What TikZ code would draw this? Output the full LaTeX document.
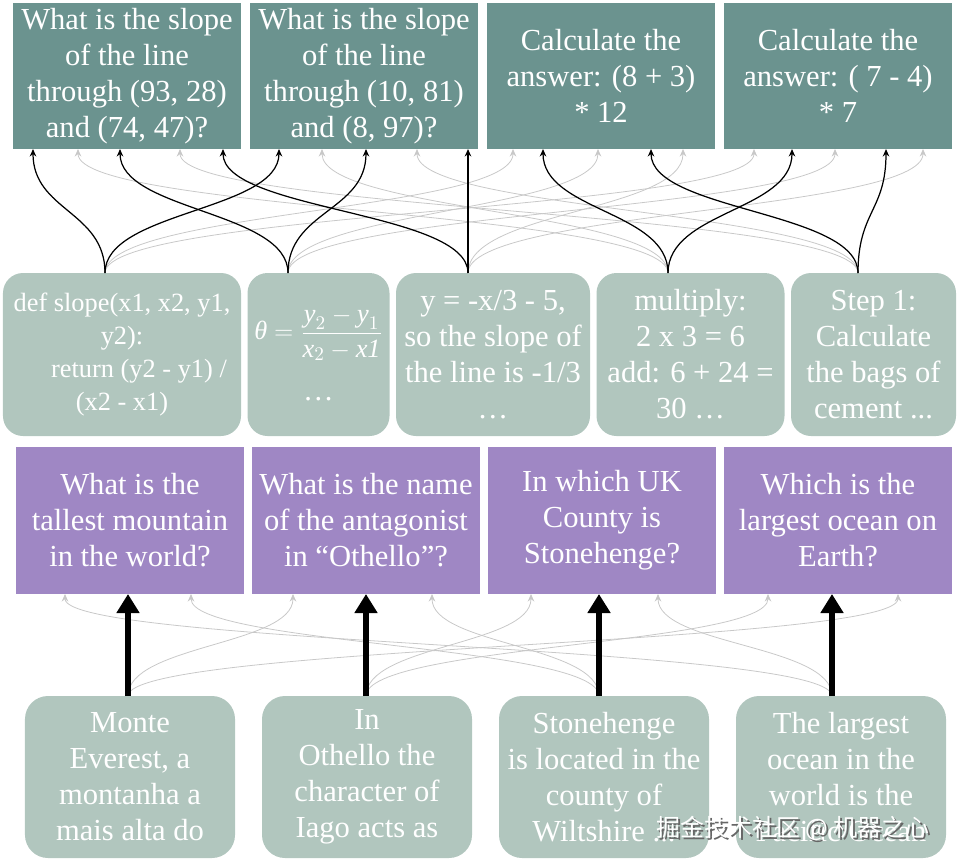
\documentclass[tikz,border=0pt]{standalone}
\usepackage{fontspec}
\setmainfont{Liberation Serif}
\newfontfamily\cjkfont{Noto Sans CJK SC}
\usepackage{tikz}
\usetikzlibrary{arrows.meta, positioning}

\definecolor{qteal}{RGB}{107,147,143}
\definecolor{sage}{RGB}{177,198,190}
\definecolor{lilac}{RGB}{159,135,196}
\definecolor{faint}{RGB}{200,200,200}

\begin{document}
\begin{tikzpicture}[x=0.2mm, y=-0.2mm,
    question/.style={rectangle, fill=qteal, text=white, inner sep=0pt, outer sep=0pt, minimum width=45.6mm, minimum height=29.2mm, align=center, font=\fontsize{17.4}{20.5}\selectfont},
    trivia/.style={question, fill=lilac, minimum height=29.4mm},
    reason/.style={question, fill=sage, rounded corners=4mm, minimum height=32.6mm},
    answer/.style={reason, rounded corners=4.6mm, minimum width=42mm, minimum height=32.4mm},
    rise/.style={to path={.. controls +(0,-#1) and +(0,#1) .. (\tikztotarget)}},
    link/.style={-{Stealth[length=1.5mm, width=1.3mm]}, line width=0.7pt},
    faded/.style={link, draw=faint, line width=0.45pt},
    bold/.style={-{Triangle[length=3.8mm, width=4.4mm]}, line width=1.3mm}
]
\useasboundingbox (0,0) rectangle (959,865);

\node[question] (q1) at (127,76) {What is the slope\\of the line\\through (93, 28)\\and (74, 47)?};
\node[question, right=1.8mm of q1] (q2) {What is the slope\\of the line\\through (10, 81)\\and (8, 97)?};
\node[question, right=1.8mm of q2] (q3) {Calculate the\\answer: (8 + 3)\\* 12};
\node[question, right=1.8mm of q3] (q4) {Calculate the\\answer: ( 7 - 4)\\* 7};

\node[reason, minimum width=47.6mm, font=\fontsize{15}{18.8}\selectfont] (m1) at (122,354.5) {def slope(x1, x2, y1,\\y2):\\\hspace*{6.8mm}return (y2 - y1) /\\(x2 - x1)};
\node[reason, minimum width=28.4mm, right=1.3mm of m1] (m2) {{\fontsize{15}{18}\selectfont$\displaystyle\textit{θ}=\frac{\textit{y}_2-\textit{y}_1}{\textit{x}_2-\textit{x1}}$}\\[5mm]…};
\node[reason, minimum width=38.8mm, right=1.3mm of m2] (m3) {y = -x/3 - 5,\\so the slope of\\the line is -1/3\\…};
\node[reason, minimum width=37.6mm, right=1.3mm of m3] (m4) {multiply:\\2 x 3 = 6\\add: 6 + 24 =\\30 …};
\node[reason, minimum width=33mm, right=1.3mm of m4] (m5) {Step 1:\\Calculate\\the bags of\\cement ...};

\node[trivia] (p1) at (130,520.5) {What is the\\tallest mountain\\in the world?};
\node[trivia, right=1.6mm of p1] (p2) {What is the name\\of the antagonist\\in “Othello”?};
\node[trivia, right=1.6mm of p2] (p3) {In which UK\\County is\\Stonehenge?};
\node[trivia, right=1.6mm of p3] (p4) {Which is the\\largest ocean on\\Earth?};

\node[answer] (a1) at (130,777) {Monte\\Everest, a\\montanha a\\mais alta do};
\node[answer, right=5.4mm of a1] (a2) {In\\Othello the\\character of\\Iago acts as};
\node[answer, right=5.4mm of a2] (a3) {Stonehenge\\is located in the\\county of\\Wiltshire ...};
\node[answer, right=5.4mm of a3] (a4) {The largest\\ocean in the\\world is the\\Pacific Ocean};

\coordinate (m1t) at ([xshift=-3.4mm]m1.north);
\coordinate (m2t) at ([xshift=-6.1mm]m2.north);
\coordinate (m3t) at ([xshift=-5mm]m3.north);
\coordinate (m4t) at ([xshift=-4.5mm]m4.north);
\coordinate (m5t) at ([xshift=-3.1mm]m5.north);
\coordinate (a1t) at ([xshift=-0.4mm]a1.north);
\coordinate (a2t) at ([xshift=-0.2mm]a2.north);
\coordinate (a3t) at ([xshift=-1mm]a3.north);
\coordinate (a4t) at ([xshift=-1.8mm]a4.north);

% reasoning that does not fit the question
\draw[faded] (m4t) to[rise=62] ([xshift=-9.8mm]q1.south);
\draw[faded] (m5t) to[rise=62] ([xshift=10.6mm]q1.south);
\draw[faded] (m4t) to[rise=62] ([xshift=-8.4mm]q2.south);
\draw[faded] (m5t) to[rise=62] ([xshift=10.6mm]q2.south);
\draw[faded] (m1t) to[rise=62] ([xshift=-17.6mm]q3.south);
\draw[faded] (m2t) to[rise=62] ([xshift=-0.6mm]q3.south);
\draw[faded] (m3t) to[rise=62] ([xshift=16.4mm]q3.south);
\draw[faded] (m1t) to[rise=62] ([xshift=-16.8mm]q4.south);
\draw[faded] (m2t) to[rise=62] ([xshift=-0.6mm]q4.south);
\draw[faded] (m3t) to[rise=62] ([xshift=17mm]q4.south);

% reasoning that fits
\draw[link] (m1t) to[rise=62] ([xshift=-18.8mm]q1.south);
\draw[link] (m2t) to[rise=62] ([xshift=-1.4mm]q1.south);
\draw[link] (m3t) to[rise=62] ([xshift=19.2mm]q1.south);
\draw[link] (m1t) to[rise=62] ([xshift=-17mm]q2.south);
\draw[link] (m2t) to[rise=62] ([xshift=0.4mm]q2.south);
\draw[link] (m3t) -- (m3t |- q2.south);
\draw[link] (m4t) to[rise=62] ([xshift=-11.6mm]q3.south);
\draw[link] (m5t) to[rise=62] ([xshift=10mm]q3.south);
\draw[link] (m4t) to[rise=62] ([xshift=-9.2mm]q4.south);
\draw[link] (m5t) to[rise=62] ([xshift=9.6mm]q4.south);

% answers to other questions
\draw[faded] (a1t) to[rise=51] ([xshift=-14.6mm]p2.south);
\draw[faded] (a1t) to[rise=51] ([xshift=12mm]p4.south);
\draw[faded] (a2t) to[rise=51] ([xshift=-14.2mm]p3.south);
\draw[faded] (a2t) to[rise=51] ([xshift=-14mm]p4.south);
\draw[faded] (a3t) to[rise=51] ([xshift=12.2mm]p1.south);
\draw[faded] (a3t) to[rise=51] ([xshift=13.2mm]p2.south);
\draw[faded] (a4t) to[rise=51] ([xshift=-13mm]p1.south);
\draw[faded] (a4t) to[rise=51] ([xshift=11.2mm]p3.south);

\draw[bold] (a1t) -- (a1t |- p1.south);
\draw[bold] (a2t) -- (a2t |- p2.south);
\draw[bold] (a3t) -- (a3t |- p3.south);
\draw[bold] (a4t) -- (a4t |- p4.south);

\node[text=black!60, font=\cjkfont\fontsize{13.6}{16}\selectfont] (markshade) at (795,830) {掘金技术社区 @ 机器之心};
\node[text=white, font=\cjkfont\fontsize{13.6}{16}\selectfont] (mark) at (793,828) {掘金技术社区 @ 机器之心};
\end{tikzpicture}
\end{document}
